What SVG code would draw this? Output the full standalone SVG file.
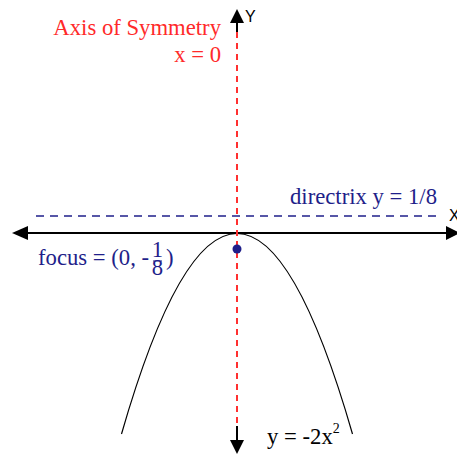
<svg xmlns="http://www.w3.org/2000/svg" width="457" height="455" viewBox="0 0 457 455">
<style>
.serif{font-family:"Liberation Serif","Times New Roman",serif;font-size:22.7px}
.red{fill:#ff2a2a}
.blue{fill:#1f1f8a}
.sans{font-family:"Liberation Sans",Arial,sans-serif;font-size:16px;fill:#000}
</style>
<rect width="457" height="455" fill="#fff"/>
<g id="axes">
  <line x1="26" y1="233" x2="447" y2="233" stroke="#000" stroke-width="2"/>
  <polygon points="12,233 28,226 28,240" fill="#000"/>
  <polygon points="460,233 446,226 446,240" fill="#000"/>
  <line x1="237" y1="22" x2="237" y2="32" stroke="#000" stroke-width="2"/>
  <polygon points="237,9 230,23 244,23" fill="#000"/>
  <line x1="237" y1="426" x2="237" y2="442" stroke="#000" stroke-width="2"/>
  <polygon points="237,454 230,440 244,440" fill="#000"/>
  <text class="sans" x="245" y="22">Y</text>
  <text class="sans" x="449" y="221">X</text>
</g>
<g id="directrix">
  <line x1="36" y1="216" x2="440" y2="216" stroke="#1f1f8a" stroke-width="1.5" stroke-dasharray="8,6"/>
  <text class="serif blue" x="437" y="204" text-anchor="end">directrix y = 1/8</text>
</g>
<g id="parabola">
  <path d="M121.5,434 Q237,33 352.5,434" fill="none" stroke="#000" stroke-width="1.2"/>
  <text class="serif" x="267" y="444" fill="#000">y = -2x<tspan font-size="14" dy="-11">2</tspan></text>
</g>
<g id="axis-of-symmetry">
  <line x1="237" y1="32" x2="237" y2="426" stroke="#ff3030" stroke-width="2" stroke-dasharray="6,5"/>
  <text class="serif red" x="221" y="35" text-anchor="end">Axis of Symmetry</text>
  <text class="serif red" x="221" y="62" text-anchor="end">x = 0</text>
</g>
<g id="focus">
  <circle cx="237" cy="249" r="4.5" fill="#1f1f8a"/>
  <text class="serif blue" x="38" y="265">focus = (0, -</text>
  <text class="serif blue" x="157.5" y="256.5" font-size="12.5" text-anchor="middle">1</text>
  <line x1="153" y1="261" x2="162" y2="261" stroke="#1f1f8a" stroke-width="1"/>
  <text class="serif blue" x="157.5" y="274.5" font-size="12.5" text-anchor="middle">8</text>
  <text class="serif blue" x="166" y="265">)</text>
</g>
</svg>
